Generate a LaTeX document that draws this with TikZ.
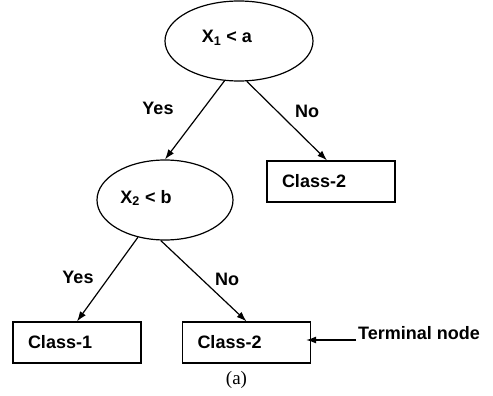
\documentclass[tikz,border=0pt]{standalone}
\usepackage{fontspec}
\setmainfont{Liberation Sans}
\newfontfamily\capserif{Liberation Serif}
\usetikzlibrary{shapes.geometric,arrows.meta}
\tikzset{
  treefont/.style={font=\fontsize{18}{21}\selectfont\bfseries},
  test/.style={ellipse, draw, line width=1.2pt, inner sep=0pt},
  leafbox/.style={draw, line width=1.2pt, minimum height=41pt, inner xsep=15pt,
    text width=98pt, align=left, treefont},
  edge/.style={line width=1.2pt, -{Latex[length=10pt,width=7pt]}},
  branch/.style={treefont},
  capstyle/.style={font={\capserif\fontsize{19}{22}\selectfont}}
}
\begin{document}
\begin{tikzpicture}[x=1pt,y=-1pt]
  \useasboundingbox (0,0) rectangle (493,396);
  % decision nodes
  \node[test, minimum width=148pt, minimum height=80pt,
        label={[treefont, xshift=-12pt, yshift=3pt]center:X\textsubscript{1} < a}] (root) at (239,41) {};
  \node[test, minimum width=136pt, minimum height=80pt,
        label={[treefont, xshift=-19pt, yshift=2pt]center:X\textsubscript{2} < b}] (sub) at (165,200) {};
  % terminal nodes
  \node[leafbox] (leafR) at (331,181.5) {Class-2};
  \node[leafbox] (leafA) at (77,342.5) {Class-1};
  \node[leafbox] (leafB) at (246.5,342.5) {Class-2};
  % branches
  \draw[edge] (root.250.4) -- (sub.north);
  \draw[edge] (root.281.4) -- ([xshift=-4pt]leafR.north);
  \draw[edge] (sub.234.9) -- (leafA.north);
  \draw[edge] (sub.264.3) -- (leafB.north);
  % branch labels
  \node[branch] (y1) at (158,108) {Yes};
  \node[branch] (n1) at (307,111) {No};
  \node[branch] (y2) at (78,277) {Yes};
  \node[branch] (n2) at (227,279) {No};
  % annotation
  \node[branch, anchor=west, inner sep=0pt] (term) at (358,333) {Terminal node};
  \coordinate (termtail) at ([xshift=-2pt,yshift=-7pt]term.west);
  \draw[edge, shorten >=-5pt] (termtail) -- (termtail -| leafB.east);
  % caption
  \node[capstyle] (cap) at (236.5,380) {(a)};
\end{tikzpicture}
\end{document}
